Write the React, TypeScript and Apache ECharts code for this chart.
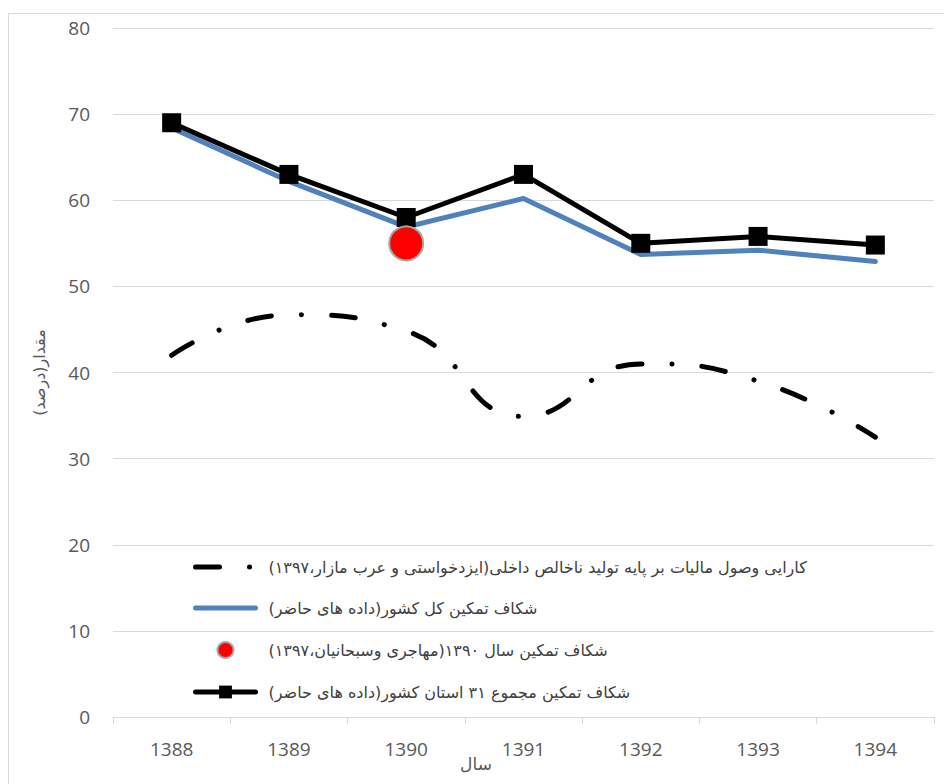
import React, { useEffect, useRef } from "react";
import * as echarts from "echarts";

const years = ["1388", "1389", "1390", "1391", "1392", "1393", "1394"];
const taxEfficiency = [42, 46.7, 44.8, 34.9, 41, 39, 32.5];
const gapCountry = [68.4, 62.2, 56.9, 60.2, 53.7, 54.2, 52.9];
const gap1390 = ["-", "-", 55, "-", "-", "-", "-"];
const gapProvinces = [69, 63, 58, 63, 55, 55.8, 54.8];
const yTicks = { min: 0, max: 80, interval: 10 };

const nameTax = "کارایی وصول مالیات بر پایه تولید ناخالص داخلی(ایزدخواستی و عرب مازار،۱۳۹۷)";
const nameCountry = "شکاف تمکین کل کشور(داده های حاضر)";
const name1390 = "شکاف تمکین سال ۱۳۹۰(مهاجری وسبحانیان،۱۳۹۷)";
const nameProv = "شکاف تمکین مجموع ۳۱ استان کشور(داده های حاضر)";
const yName = "مقدار(درصد)";
const xName = "سال";

const numFont = "'Open Sans', sans-serif";
const faFont = "'DejaVu Sans', 'Noto Sans', sans-serif";

const dashDot = [24, 30, 0.1, 30];
const blue = "#4F81BD";
const hidden = { color: "rgba(0,0,0,0)", borderWidth: 0 };

export default function App() {
  const ref = useRef<HTMLDivElement>(null);
  useEffect(() => {
    if (!ref.current) return;
    const chart = echarts.init(ref.current, undefined, { renderer: "svg" });
    chart.setOption({
      animation: false,
      backgroundColor: "#ffffff",
      grid: { left: 113, right: 10, top: 28, bottom: 67, containLabel: false },
      graphic: [
        {
          type: "rect",
          shape: { x: 8.5, y: 13.5, width: 1000, height: 1000 },
          style: { fill: "none", stroke: "#d9d9d9", lineWidth: 1 },
          silent: true,
        },
        {
          type: "text",
          x: 476,
          y: 764,
          style: {
            text: xName + "\u200F",
            font: "17px " + faFont,
            fill: "#595959",
            align: "center",
            verticalAlign: "middle",
          },
        },
      ],
      legend: {
        orient: "vertical",
        left: 188,
        top: 554,
        itemWidth: 60,
        itemHeight: 16,
        itemGap: 25,
        selectedMode: false,
        formatter: (n: string) => n + "\u200F",
        textStyle: { fontFamily: faFont, fontSize: 16, color: "#404040", padding: [0, 0, 0, 8] },
        data: [
          {
            name: nameTax,
            itemStyle: hidden,
            lineStyle: { color: "#000000", width: 5, type: dashDot, cap: "round" },
          },
          {
            name: nameCountry,
            itemStyle: hidden,
            lineStyle: { color: blue, width: 5, cap: "round" },
          },
          { name: name1390 },
          {
            name: nameProv,
            lineStyle: { color: "#000000", width: 5, cap: "round" },
          },
        ],
      },
      xAxis: {
        type: "category",
        data: years,
        boundaryGap: true,
        axisLine: { show: true, lineStyle: { color: "#d9d9d9", width: 1 } },
        axisTick: { show: true, length: 7, lineStyle: { color: "#d9d9d9" } },
        axisLabel: { fontFamily: numFont, fontSize: 19, color: "#595959", margin: 22 },
        splitLine: { show: false },
      },
      yAxis: {
        type: "value",
        min: yTicks.min,
        max: yTicks.max,
        interval: yTicks.interval,
        name: yName + "\u200F",
        nameLocation: "middle",
        nameRotate: 90,
        nameGap: 66,
        nameTextStyle: { fontFamily: faFont, fontSize: 16, color: "#595959" },
        axisLine: { show: false },
        axisTick: { show: false },
        axisLabel: { fontFamily: numFont, fontSize: 19, color: "#595959", margin: 23 },
        splitLine: { lineStyle: { color: "#d9d9d9", width: 1 } },
      },
      series: [
        {
          name: nameTax,
          type: "line",
          data: taxEfficiency,
          smooth: 0.5,
          symbol: "none",
          z: 2,
          itemStyle: { color: "#000000" },
          lineStyle: { color: "#000000", width: 5, type: dashDot, cap: "round" },
        },
        {
          name: nameCountry,
          type: "line",
          data: gapCountry,
          symbol: "none",
          z: 3,
          itemStyle: { color: blue },
          lineStyle: { color: blue, width: 5, cap: "round", join: "round" },
        },
        {
          name: nameProv,
          type: "line",
          data: gapProvinces,
          symbol: "rect",
          symbolSize: 19,
          z: 4,
          itemStyle: { color: "#000000" },
          lineStyle: { color: "#000000", width: 5 },
        },
        {
          name: name1390,
          type: "scatter",
          data: gap1390,
          symbol: "circle",
          symbolSize: 34,
          z: 5,
          itemStyle: { color: "#ff0000", borderColor: "#a6a6a6", borderWidth: 2, opacity: 1 },
        },
      ],
    });
    return () => chart.dispose();
  }, []);
  return (
    <div
      ref={ref}
      style={{ position: "fixed", left: 0, top: 0, width: 944, height: 784, background: "#fff" }}
    />
  );
}
